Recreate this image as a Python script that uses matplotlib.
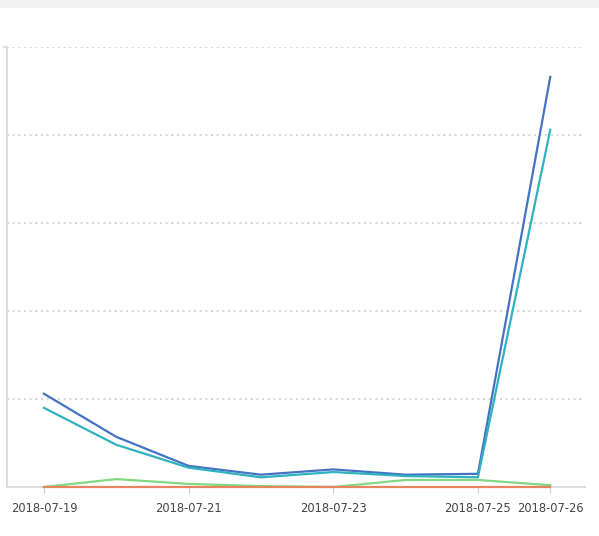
import matplotlib
matplotlib.use('Agg')
from matplotlib import pyplot as plt
from matplotlib.patches import Rectangle

# Data
dates = ['2018-07-19', '2018-07-20', '2018-07-21', '2018-07-22',
         '2018-07-23', '2018-07-24', '2018-07-25', '2018-07-26']
blue = [106, 57, 24, 14, 20, 14, 15, 466]
teal = [90, 48, 22, 11, 17, 12.5, 11, 406]
green = [0, 9, 3.5, 1, 0, 8, 8, 2]
orange = [0, 0, 0, 0, 0, 0, 0, 0]
shown_labels = ['2018-07-19', '2018-07-21', '2018-07-23', '2018-07-25', '2018-07-26']

fig = plt.figure(figsize=(5.99, 5.36), dpi=100)

# Gray strip at the top
fig.patches.append(Rectangle((0, 1 - 8 / 536), 1, 8 / 536, transform=fig.transFigure,
                             facecolor='#f1f1f1', edgecolor='none'))

ax = fig.add_axes([7 / 599, 49 / 536, 578 / 599, 440 / 536])

x = list(range(len(dates)))
ax.plot(x, blue, color='#4672c4', lw=1.6, zorder=3)
ax.plot(x, teal, color='#2eb2c0', lw=1.6, zorder=3)
ax.plot(x, green, color='#80d881', lw=1.6, zorder=3, clip_on=False)
ax.plot(x, orange, color='#e5845d', lw=1.6, zorder=4, clip_on=False)

ax.set_xlim(-0.51, 7.48)
ax.set_ylim(0, 500)

# Dotted gridlines
for y in [100, 200, 300, 400, 500]:
    ax.axhline(y, color='#d0d0d0', lw=1.2, ls=(0, (1.2, 2.2)), zorder=0)

ax.set_yticks([500])
ax.set_yticklabels([''])
ax.tick_params(axis='y', length=3, color='#dddddd', width=1.5)
ticks = [dates.index(d) for d in shown_labels]
ax.set_xticks(ticks)
ax.set_xticklabels(shown_labels, fontsize=8.3, color='#444444')
ax.tick_params(axis='x', length=4, color='#cccccc', pad=7)

for s in ['top', 'right']:
    ax.spines[s].set_visible(False)
for s in ['left', 'bottom']:
    ax.spines[s].set_color('#dddddd')
    ax.spines[s].set_linewidth(1.5)

fig.savefig('out.png', dpi=100)
